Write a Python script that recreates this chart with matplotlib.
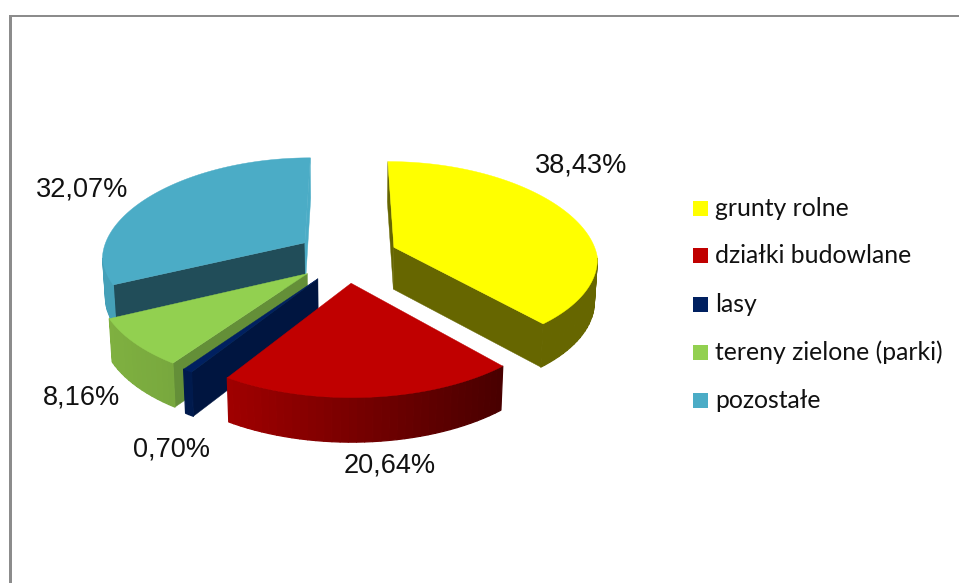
import numpy as np
import matplotlib
matplotlib.use("Agg")
import matplotlib.pyplot as plt
from matplotlib.collections import PolyCollection
from matplotlib.patches import Polygon, Rectangle
from matplotlib.colors import to_rgb

categories = ["grunty rolne", "działki budowlane", "lasy", "tereny zielone (parki)", "pozostałe"]
values = [38.43, 20.64, 0.70, 8.16, 32.07]
top_colors = ["#FFFF00", "#C00000", "#002060", "#92D050", "#4BACC6"]
start_face = ["#666600", "#500000", "#001540", "#648F38", "#214D59"]
end_face = ["#666600", "#7A0000", "#001540", "#648F38", "#4BACC6"]
arc_left = ["#666600", "#A00000", "#001A4D", "#7FB040", "#45A0B8"]
arc_right = ["#666600", "#480000", "#001A4D", "#78A83E", "#45A0B8"]
label_xy = [(581, 166), (390, 466), (171, 450), (81, 398), (82, 190)]
legend_y = [208, 255, 304, 352, 400]

# pie layout, in reference pixels
CX, CY = 347, 256.5
RX, RY = 203.6, 96.5
K, K_BACK_X = 0.104, 0.15
EXPLODE_X, EXPLODE_Y = 0.25, 0.27
DEPTH = 42

plt.rcParams["font.family"] = ["Liberation Sans", "DejaVu Sans"]
fig = plt.figure(figsize=(9.59, 5.83), dpi=100)
ax = fig.add_axes([0, 0, 1, 1])
ax.set_xlim(0, 959)
ax.set_ylim(583, 0)
ax.axis("off")

ax.add_patch(Rectangle((9, 15), 3, 568, fc="#8C8C8C", ec="none"))
ax.add_patch(Rectangle((9, 15), 950, 2, fc="#8C8C8C", ec="none"))


def project(X, Y, z):
    X, Y = np.asarray(X, float), np.asarray(Y, float)
    p = 1 / (1 + K * Y)
    px = 1 / (1 + np.where(Y > 0, K_BACK_X, K) * Y)
    x = CX + RX * X * px * (1 - 0.012 * z)
    y = CY - RY * Y * p + z * DEPTH * (0.6 + 0.4 * p)
    return np.column_stack([x, y])


fracs = np.array(values) / np.sum(values)
ends = np.cumsum(fracs) * 2 * np.pi
starts = ends - fracs * 2 * np.pi

for i in [4, 3, 2, 1, 0]:
    th0, th1 = starts[i], ends[i]
    mid = (th0 + th1) / 2
    ox, oy = EXPLODE_X * np.sin(mid), EXPLODE_Y * np.cos(mid)
    n_fine = max(8, int(np.degrees(th1 - th0) * 2))
    th = np.linspace(th0, th1, n_fine)
    ax_, ay_ = ox + np.sin(th), oy + np.cos(th)
    top_arc = project(ax_, ay_, 0)
    low_arc = project(ax_, ay_, 1)
    apex_t = project([ox], [oy], 0)[0]
    apex_b = project([ox], [oy], 1)[0]
    z0 = i * -3 + 20

    # radial walls, only those that face the viewer
    if top_arc[0, 0] < apex_t[0]:
        ax.add_patch(Polygon([apex_t, top_arc[0], low_arc[0], apex_b], fc=start_face[i], ec=start_face[i], lw=0.3, zorder=z0))
    if apex_t[0] < top_arc[-1, 0]:
        ax.add_patch(Polygon([apex_t, top_arc[-1], low_arc[-1], apex_b], fc=end_face[i], ec=end_face[i], lw=0.3, zorder=z0))

    # outer wall, front-facing part only, shaded by screen position
    cl, cr = np.array(to_rgb(arc_left[i])), np.array(to_rgb(arc_right[i]))
    xmin, xmax = top_arc[:, 0].min(), top_arc[:, 0].max()
    step = 4
    quads, cols = [], []
    for j in range(0, len(th) - 1, step):
        k = min(j + step, len(th) - 1)
        if top_arc[k, 0] >= top_arc[j, 0]:
            continue
        quads.append(np.vstack([top_arc[j:k + 1], low_arc[j:k + 1][::-1]]))
        t = (top_arc[j:k + 1, 0].mean() - xmin) / max(xmax - xmin, 1)
        cols.append(cl + (cr - cl) * t)
    if quads:
        ax.add_collection(PolyCollection(quads, facecolors=cols, edgecolors=cols, linewidths=0.9, zorder=z0 + 0.5))
    # top face
    ax.add_patch(Polygon(np.vstack([[apex_t], top_arc]), fc=top_colors[i], ec=top_colors[i], lw=0.3, zorder=z0 + 1))

for v, (x, y) in zip(values, label_xy):
    ax.text(x, y, f"{v:.2f}%".replace(".", ","), fontsize=19.5, color="#111111", ha="center", va="center", zorder=30)

for name, col, y in zip(categories, top_colors, legend_y):
    ax.add_patch(Rectangle((693, y - 7.5), 15, 15, fc=col, ec="none"))
    ax.text(715, y + 0.5, name, family="Lato", fontsize=17.8, color="#111111", ha="left", va="center")

fig.savefig("out.png", dpi=100, facecolor="white")
